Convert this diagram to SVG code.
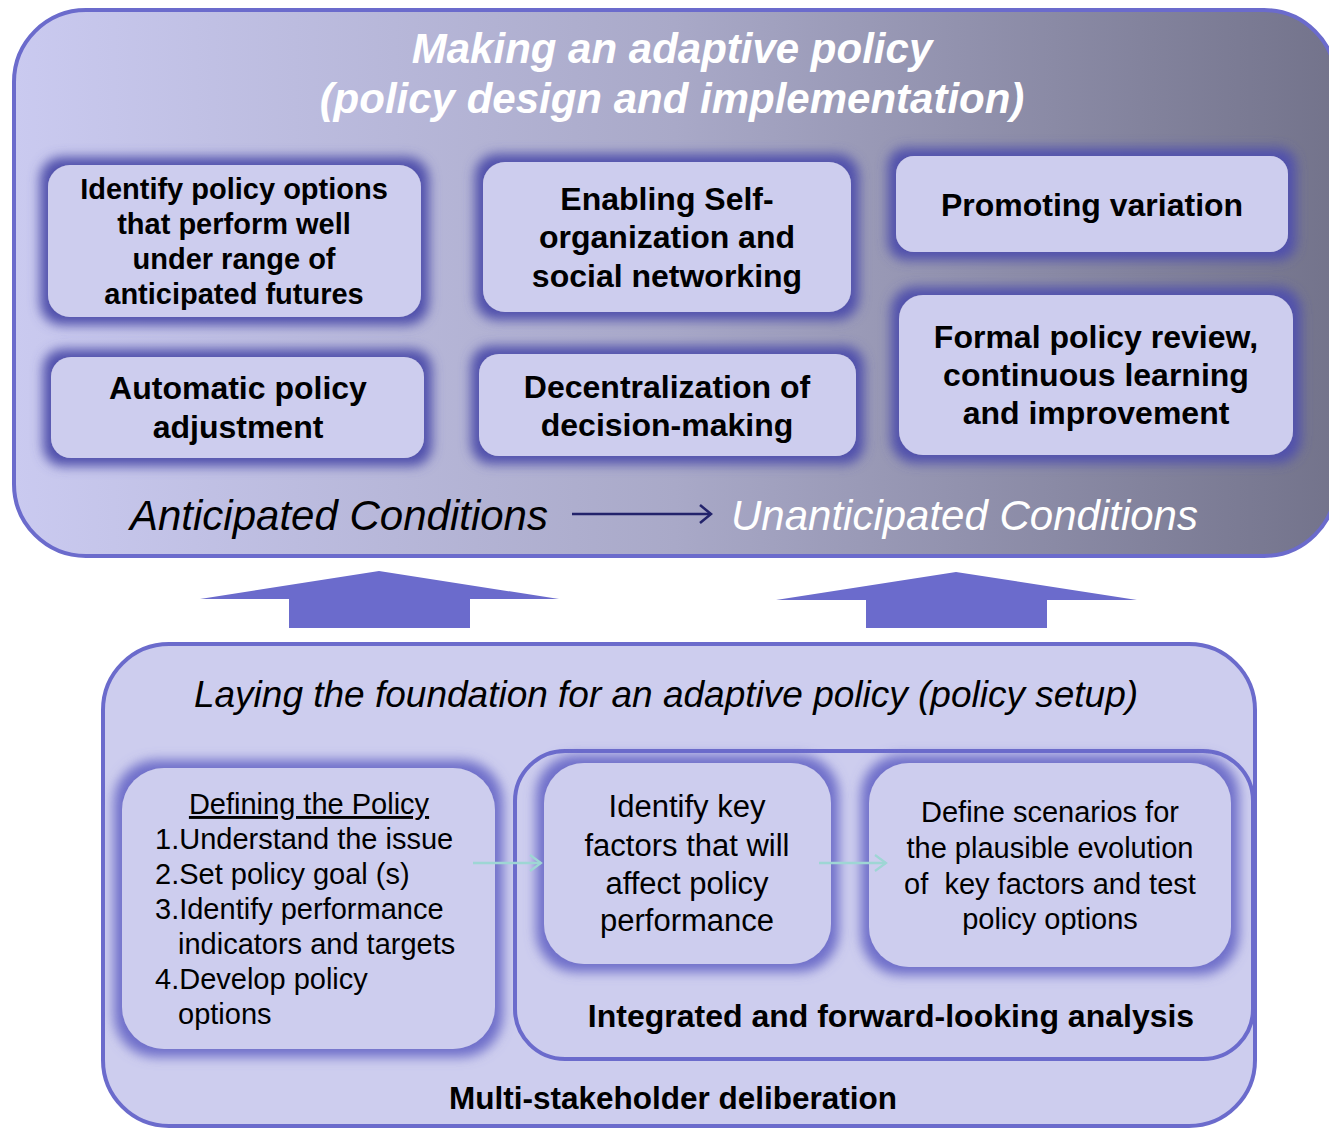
<svg xmlns="http://www.w3.org/2000/svg" width="1329" height="1128" viewBox="0 0 1329 1128">
<defs>
  <linearGradient id="topGrad" x1="0" y1="0" x2="1" y2="0">
    <stop offset="0" stop-color="#cacaf0"/>
    <stop offset="0.5" stop-color="#a9a9c8"/>
    <stop offset="1" stop-color="#73738b"/>
  </linearGradient>
  <filter id="glow" x="-15%" y="-25%" width="130%" height="150%">
    <feMorphology in="SourceAlpha" operator="dilate" radius="8" result="d"/>
    <feGaussianBlur in="d" stdDeviation="6" result="b"/>
    <feFlood flood-color="#5050ac" flood-opacity="1"/>
    <feComposite in2="b" operator="in" result="g"/>
    <feMerge><feMergeNode in="g"/><feMergeNode in="SourceGraphic"/></feMerge>
  </filter>
  <filter id="glowLight" x="-15%" y="-25%" width="130%" height="150%">
    <feMorphology in="SourceAlpha" operator="dilate" radius="8" result="d"/>
    <feGaussianBlur in="d" stdDeviation="6" result="b"/>
    <feFlood flood-color="#6a6ac8" flood-opacity="0.95"/>
    <feComposite in2="b" operator="in" result="g"/>
    <feMerge><feMergeNode in="g"/><feMergeNode in="SourceGraphic"/></feMerge>
  </filter>
  <marker id="chev" markerWidth="14" markerHeight="20" refX="12" refY="10" orient="auto" markerUnits="userSpaceOnUse">
    <path d="M1,1 L12,10 L1,19" fill="none" stroke="#23236b" stroke-width="2.5"/>
  </marker>
  <marker id="chevLight" markerWidth="14" markerHeight="20" refX="12" refY="10" orient="auto" markerUnits="userSpaceOnUse">
    <path d="M1,2 L12,10 L1,18" fill="none" stroke="#9ed6d4" stroke-width="2.2"/>
  </marker>
</defs>
<style>
  text { font-family: "Liberation Sans", Arial, sans-serif; }
  .box { fill: #cdcdee; }
  .b29 { font-size: 29px; font-weight: bold; text-anchor: middle; fill: #000; }
  .b32 { font-size: 32px; font-weight: bold; text-anchor: middle; fill: #000; }
  .r29 { font-size: 29px; fill: #000; }
  .r31 { font-size: 31px; text-anchor: middle; fill: #000; }
  .title { font-size: 42px; font-weight: bold; font-style: italic; fill: #fff; text-anchor: middle; }
  .cond { font-size: 42px; font-style: italic; }
  .container { stroke: #6b6bcc; stroke-width: 4; }
  .bigArrow { fill: #6b6bcc; }
</style>

<g id="top-container">
  <rect class="container" x="14" y="10" width="1322" height="546" rx="72" fill="url(#topGrad)"/>
  <text class="title" x="672" y="63">Making an adaptive policy</text>
  <text class="title" x="672" y="113">(policy design and implementation)</text>
</g>

<g id="node-identify-options">
  <rect class="box" x="48" y="165" width="373" height="152" rx="22" filter="url(#glow)"/>
  <text class="b29" x="234" y="199">Identify policy options</text>
  <text class="b29" x="234" y="234">that perform well</text>
  <text class="b29" x="234" y="269">under range of</text>
  <text class="b29" x="234" y="304">anticipated futures</text>
</g>

<g id="node-self-organization">
  <rect class="box" x="483" y="162" width="368" height="150" rx="22" filter="url(#glow)"/>
  <text class="b32" x="667" y="210">Enabling Self-</text>
  <text class="b32" x="667" y="248">organization and</text>
  <text class="b32" x="667" y="287">social networking</text>
</g>

<g id="node-promoting-variation">
  <rect class="box" x="896" y="156" width="392" height="96" rx="18" filter="url(#glow)"/>
  <text class="b32" x="1092" y="216">Promoting variation</text>
</g>

<g id="node-formal-review">
  <rect class="box" x="899" y="295" width="394" height="160" rx="24" filter="url(#glow)"/>
  <text class="b32" x="1096" y="348">Formal policy review,</text>
  <text class="b32" x="1096" y="386">continuous learning</text>
  <text class="b32" x="1096" y="424">and improvement</text>
</g>

<g id="node-automatic-adjustment">
  <rect class="box" x="51" y="357" width="373" height="101" rx="20" filter="url(#glow)"/>
  <text class="b32" x="238" y="399">Automatic policy</text>
  <text class="b32" x="238" y="438">adjustment</text>
</g>

<g id="node-decentralization">
  <rect class="box" x="479" y="354" width="377" height="102" rx="20" filter="url(#glow)"/>
  <text class="b32" x="667" y="398">Decentralization of</text>
  <text class="b32" x="667" y="436">decision-making</text>
</g>

<g id="conditions">
  <text class="cond" x="130" y="530" fill="#000">Anticipated Conditions</text>
  <text class="cond" x="731" y="530" fill="#fff">Unanticipated Conditions</text>
</g>

<g id="bottom-container">
  <rect class="container" x="103" y="644" width="1152" height="482" rx="66" fill="#cdcdee"/>
  <text x="666" y="707" font-size="37" font-style="italic" text-anchor="middle" fill="#000">Laying the foundation for an adaptive policy (policy setup)</text>
  <text x="673" y="1109" font-size="31.5" font-weight="bold" text-anchor="middle" fill="#000">Multi-stakeholder deliberation</text>
</g>

<g id="node-defining-policy">
  <rect class="box" x="122" y="768" width="373" height="281" rx="42" filter="url(#glowLight)"/>
  <text x="309" y="814" font-size="29" text-anchor="middle" text-decoration="underline" fill="#000">Defining the Policy</text>
  <text class="r29" x="155" y="849">1.Understand the issue</text>
  <text class="r29" x="155" y="884">2.Set policy goal (s)</text>
  <text class="r29" x="155" y="919">3.Identify performance</text>
  <text class="r29" x="178" y="954">indicators and targets</text>
  <text class="r29" x="155" y="989">4.Develop policy</text>
  <text class="r29" x="178" y="1024">options</text>
</g>

<g id="node-integrated-analysis">
  <rect class="container" x="515" y="751" width="738" height="308" rx="50" fill="#cdcdee"/>
  <text x="891" y="1027" font-size="32" font-weight="bold" text-anchor="middle" fill="#000">Integrated and forward-looking analysis</text>
</g>

<g id="node-key-factors">
  <rect class="box" x="544" y="763" width="287" height="201" rx="40" filter="url(#glowLight)"/>
  <text class="r31" x="687" y="817">Identify key</text>
  <text class="r31" x="687" y="856">factors that will</text>
  <text class="r31" x="687" y="894">affect policy</text>
  <text class="r31" x="687" y="931">performance</text>
</g>

<g id="node-scenarios">
  <rect class="box" x="869" y="763" width="362" height="204" rx="40" filter="url(#glowLight)"/>
  <text class="r29" x="1050" y="822" text-anchor="middle">Define scenarios for</text>
  <text class="r29" x="1050" y="858" text-anchor="middle">the plausible evolution</text>
  <text class="r29" x="1050" y="894" text-anchor="middle" style="white-space:pre">of  key factors and test</text>
  <text class="r29" x="1050" y="929" text-anchor="middle">policy options</text>
</g>

<g id="connectors">
  <line x1="572" y1="514" x2="711" y2="514" stroke="#23236b" stroke-width="2.5" marker-end="url(#chev)"/>
  <polygon class="bigArrow" points="379,571 559,599 470,599 470,628 289,628 289,599 200,599"/>
  <polygon class="bigArrow" points="956,572 1137,600 1047,600 1047,628 866,628 866,600 776,600"/>
  <line x1="473" y1="863" x2="541" y2="863" stroke="#9ed6d4" stroke-width="2.5" marker-end="url(#chevLight)"/>
  <line x1="819" y1="863" x2="886" y2="863" stroke="#9ed6d4" stroke-width="2.5" marker-end="url(#chevLight)"/>
</g>
</svg>
